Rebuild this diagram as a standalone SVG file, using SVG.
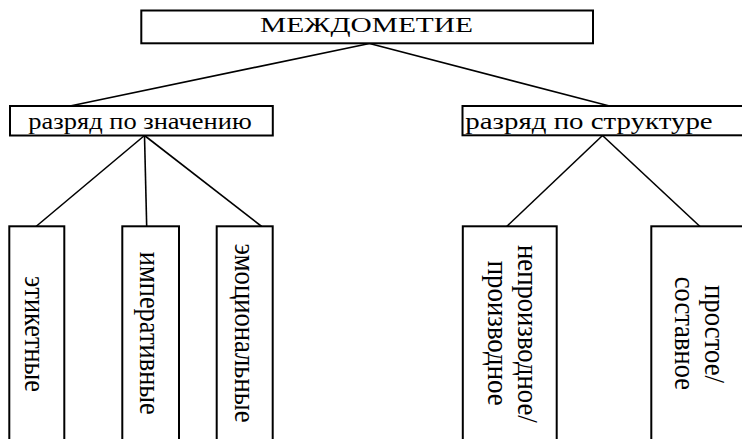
<svg xmlns="http://www.w3.org/2000/svg" width="742" height="439" viewBox="0 0 742 439">
<style>
.box{fill:#fff;stroke:#000;stroke-width:2}
.ln{stroke:#000;stroke-width:1.6;fill:none}
.t{font-family:"Liberation Serif","Times New Roman",serif;fill:#000}
.h{font-size:23px}
.v{font-size:26px}
</style>
<rect width="742" height="439" fill="#fff"/>
<g id="connectors">
<line class="ln" x1="369.5" y1="43.5" x2="70" y2="106"/>
<line class="ln" x1="369.5" y1="43.5" x2="609.5" y2="106"/>
<line class="ln" x1="144.5" y1="135.5" x2="36" y2="226.5"/>
<line class="ln" x1="144.5" y1="135.5" x2="146.7" y2="226.5"/>
<line class="ln" x1="144.5" y1="135.5" x2="261.7" y2="226.5"/>
<line class="ln" x1="602.5" y1="135.5" x2="506.7" y2="226.5"/>
<line class="ln" x1="602.5" y1="135.5" x2="700" y2="226.5"/>
</g>
<g id="root">
<rect class="box" x="141.3" y="10.5" width="451.7" height="32.8"/>
<text class="t" x="260" y="32.3" font-size="22" textLength="213" lengthAdjust="spacingAndGlyphs">МЕЖДОМЕТИЕ</text>
</g>
<g id="by-meaning">
<rect class="box" x="10" y="106" width="262.8" height="29.5"/>
<text class="t h" x="28.3" y="129.3" textLength="223.4" lengthAdjust="spacingAndGlyphs">разряд по значению</text>
</g>
<g id="by-structure">
<rect class="box" x="462.5" y="106" width="290" height="29.3"/>
<text class="t h" x="465.3" y="129.3" textLength="247.4" lengthAdjust="spacingAndGlyphs">разряд по структуре</text>
</g>
<g id="etiket">
<rect class="box" x="9.3" y="226.3" width="55" height="220"/>
<text class="t v" transform="translate(25,334) scale(1.17,1) rotate(90)" x="-58" y="0" textLength="116" lengthAdjust="spacingAndGlyphs">этикетные</text>
</g>
<g id="imperativ">
<rect class="box" x="122.3" y="226.3" width="56.7" height="220"/>
<text class="t v" transform="translate(140.3,333.3) scale(1.17,1) rotate(90)" x="-81.5" y="0" textLength="163" lengthAdjust="spacingAndGlyphs">императивные</text>
</g>
<g id="emotsion">
<rect class="box" x="216.7" y="226.3" width="56" height="220"/>
<text class="t v" transform="translate(234.5,333) scale(1.17,1) rotate(90)" x="-89.5" y="0" textLength="179" lengthAdjust="spacingAndGlyphs">эмоциональные</text>
</g>
<g id="neproizv">
<rect class="box" x="462.8" y="226.3" width="93.9" height="220"/>
<text class="t v" transform="translate(517.5,333.8) scale(1.17,1) rotate(90)" x="-88.8" y="0" textLength="177.7" lengthAdjust="spacingAndGlyphs">непроизводное/</text>
<text class="t v" transform="translate(488.3,333.2) scale(1.17,1) rotate(90)" x="-72.5" y="0" textLength="145" lengthAdjust="spacingAndGlyphs">производное</text>
</g>
<g id="prostoe">
<rect class="box" x="651.3" y="226.3" width="100" height="220"/>
<text class="t v" transform="translate(705,334) scale(1.17,1) rotate(90)" x="-49" y="0" textLength="98" lengthAdjust="spacingAndGlyphs">простое/</text>
<text class="t v" transform="translate(675,333.3) scale(1.17,1) rotate(90)" x="-56.6" y="0" textLength="113.3" lengthAdjust="spacingAndGlyphs">составное</text>
</g>
</svg>
